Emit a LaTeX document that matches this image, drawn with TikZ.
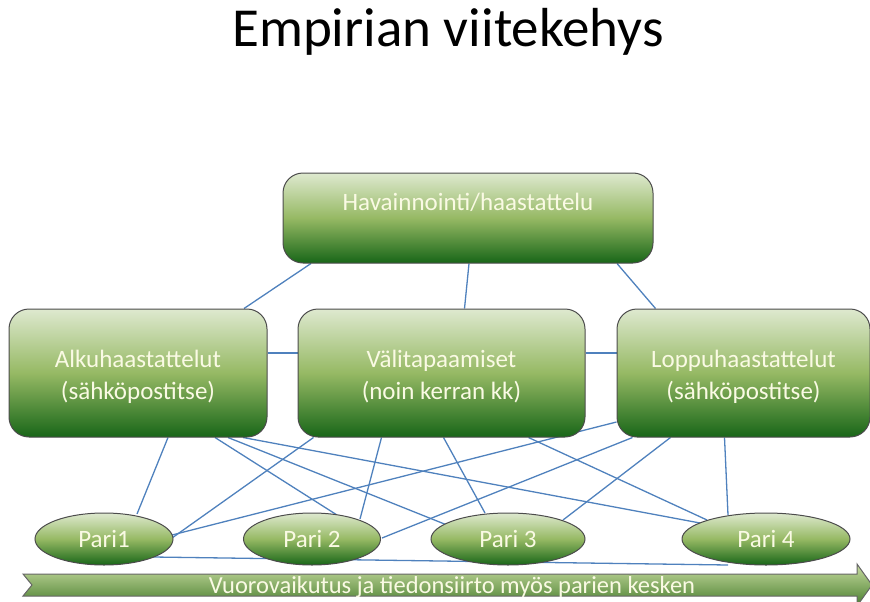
\documentclass[tikz,border=0pt]{standalone}
\usepackage{fontspec}
\setmainfont{Carlito}
\usetikzlibrary{positioning,shapes.geometric,backgrounds}
\definecolor{palegreen}{RGB}{222,233,207}
\definecolor{midgreen}{RGB}{150,185,100}
\definecolor{darkgreen}{RGB}{24,102,24}
\definecolor{arrowtop}{RGB}{200,220,160}
\definecolor{arrowbot}{RGB}{72,126,46}
\definecolor{linkblue}{RGB}{79,129,189}
\definecolor{cream}{RGB}{250,250,228}

\begin{document}
\begin{tikzpicture}[x=1pt,y=1pt,
  main/.style = {draw=black!70, line width=1pt, rounded corners=20pt, top color=palegreen, bottom color=darkgreen, middle color=midgreen, text=cream, align=center, font=\fontsize{25}{32}\selectfont},
  pari/.style = {draw=black!70, line width=1pt, ellipse, inner sep=0pt, minimum height=52pt, top color=palegreen, bottom color=darkgreen, middle color=midgreen, text=cream, font=\fontsize{25}{28}\selectfont},
  link/.style = {draw=linkblue, line width=1.3pt}]
\useasboundingbox (0,0) rectangle (870,-602);
\node[font=\fontsize{55}{60}\selectfont, anchor=base] (0) at (448,-47) {Empirian viitekehys};
\node[main, minimum width=370pt, minimum height=90pt, text height=15pt, text depth=31pt] (1) at (468,-218) {Havainnointi/haastattelu};
\node[main, minimum width=258pt, minimum height=128pt, text height=55pt, text depth=2pt] (2) at (138,-373) {Alkuhaastattelut\\(sähköpostitse)};
\node[main, minimum width=287pt, minimum height=128pt, text height=55pt, text depth=2pt] (3) [right=30pt of 2] {Välitapaamiset\\(noin kerran kk)};
\node[main, minimum width=253pt, minimum height=128pt, text height=55pt, text depth=2pt] (4) [right=31pt of 3] {Loppuhaastattelut\\(sähköpostitse)};
\node[pari, minimum width=138pt] (5) at (104,-539) {Pari1};
\node[pari, minimum width=137pt] (6) at (312,-539) {Pari 2};
\node[pari, minimum width=154pt] (7) at (508,-539) {Pari 3};
\node[pari, minimum width=168pt] (8) at (766,-539) {Pari 4};
\draw[draw=black!60, line width=1pt, top color=arrowtop, bottom color=arrowbot] (23,-574) -- (857,-574) -- (857,-564) -- (872,-585) -- (857,-606) -- (857,-596) -- (23,-596) -- (32,-585) -- cycle;
\node[text=cream, font=\fontsize{24.5}{28}\selectfont, anchor=base] (9) at (452,-593) {Vuorovaikutus ja tiedonsiirto myös parien kesken};
\begin{scope}[on background layer]
\draw[link] ([xshift=-157pt]1.south) -- ([xshift=106pt]2.north);
\draw[link] ([xshift=1pt]1.south) -- ([xshift=23pt]3.north);
\draw[link] ([xshift=149pt]1.south) -- ([xshift=-88pt]4.north);
\draw[link] ([yshift=20pt]2.east) -- ([yshift=20pt]3.west);
\draw[link] ([yshift=20pt]3.east) -- ([yshift=20pt]4.west);
\draw[link] ([xshift=30pt]2.south) -- ([shift={(33,25)}]5.center);
\draw[link] ([xshift=77pt]2.south) -- ([shift={(25,24)}]6.center);
\draw[link] ([xshift=90pt]2.south) -- ([shift={(-61,14)}]7.center);
\draw[link] ([xshift=105pt]2.south) -- ([shift={(-66,16)}]8.center);
\draw[link] ([xshift=-128pt]3.south) -- ([shift={(68,1)}]5.center);
\draw[link] ([xshift=-60pt]3.south) -- ([shift={(48,20)}]6.center);
\draw[link] ([xshift=2pt]3.south) -- ([shift={(-23,26)}]7.center);
\draw[link] ([xshift=87pt]3.south) -- ([shift={(-59,19)}]8.center);
\draw[link] ([yshift=-49pt]4.west) -- ([shift={(68,4)}]5.center);
\draw[link] ([xshift=-111pt]4.south) -- ([shift={(70,1)}]6.center);
\draw[link] ([xshift=-73pt]4.south) -- ([shift={(55,19)}]7.center);
\draw[link] ([xshift=-19pt]4.south) -- ([shift={(-38,24)}]8.center);
\draw[link] ([shift={(49,-18)}]5.center) -- ([shift={(-38,-26)}]8.center);
\end{scope}
\end{tikzpicture}
\end{document}
